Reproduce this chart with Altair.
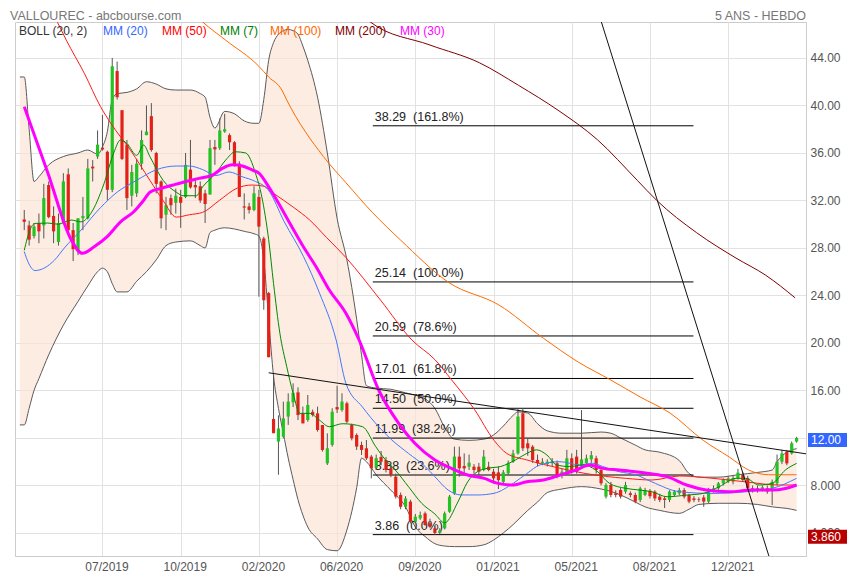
import altair as alt
import pandas as pd

# ---------------- weekly candles (index 0..158) ----------------
OPEN = [30.4, 29.9, 29.0, 30.1, 29.9, 33.3, 30.7, 28.5, 30.1, 34.2,
        29.5, 27.7, 30.5, 30.5, 34.85, 35.7, 36.45, 36.1, 32.9, 42.9,
        39.6, 36.7, 32.4, 32.6, 35.1, 37.5, 39.1, 36.0, 33.6, 30.8,
        32.2, 31.8, 32.3, 32.3, 34.6, 33.3, 33.2, 32.6, 32.5, 36.5,
        36.4, 37.8, 37.5, 36.9, 35.1, 31.5, 31.5, 31.2, 32.3, 28.8,
        24.2, 13.6, 11.7, 12.1, 13.8, 15.0, 15.84, 14.07, 13.51, 14.2,
        14.07, 13.09, 9.86, 11.41, 14.6, 14.35, 14.92, 13.09, 12.25, 11.41,
        11.13, 10.43, 9.5, 10.4, 10.14, 9.44, 8.74, 7.2, 6.2, 6.64,
        4.95, 5.23, 5.65, 4.81, 4.39, 4.0, 4.39, 5.79, 7.34, 10.43,
        9.64, 9.58, 9.58, 9.58, 9.3, 9.58, 9.16, 9.1, 8.3, 9.02,
        10.0, 10.7, 14.08, 11.55, 11.27, 10.15, 9.87, 9.8, 9.87, 9.87,
        8.88, 9.02, 10.29, 10.43, 9.6, 9.87, 10.2, 10.29, 9.3, 7.06,
        8.04, 7.34, 7.62, 7.48, 7.34, 7.2, 6.78, 7.2, 7.55, 7.48,
        7.06, 6.91, 6.78, 7.2, 7.34, 7.62, 7.2, 6.91, 6.83, 6.99,
        6.64, 7.48, 7.76, 8.18, 8.32, 8.32, 8.6, 8.88, 8.6, 7.76,
        7.76, 7.67, 7.76, 7.76, 8.18, 10.0, 10.84, 10.7, 11.7]
HIGH = [31.2, 30.3, 30.1, 30.9, 33.4, 33.6, 31.5, 30.9, 34.3, 34.7,
        30.1, 30.5, 32.3, 35.5, 35.4, 37.9, 39.2, 36.2, 44.0, 43.7,
        39.6, 37.1, 35.0, 35.5, 37.9, 40.0, 40.2, 36.1, 33.7, 32.3,
        32.5, 33.0, 32.9, 36.0, 37.1, 33.9, 33.6, 32.9, 37.1, 37.1,
        38.9, 39.3, 37.65, 37.0, 35.3, 32.6, 31.8, 33.2, 32.9, 28.95,
        24.3, 17.3, 13.9, 15.06, 15.76, 16.6, 16.26, 14.64, 15.62, 14.4,
        14.64, 13.09, 12.39, 14.5, 16.4, 15.76, 15.06, 13.2, 12.39, 11.69,
        11.83, 10.57, 10.6, 10.9, 10.4, 9.7, 9.0, 7.4, 7.1, 6.8,
        5.6, 5.8, 5.8, 5.2, 4.6, 4.4, 5.8, 7.2, 11.27, 11.27,
        10.7, 10.6, 9.8, 9.9, 10.99, 10.0, 9.4, 9.6, 9.3, 10.1,
        11.0, 14.5, 14.5, 12.0, 11.4, 10.6, 10.3, 10.2, 10.3, 10.1,
        9.4, 11.0, 10.7, 11.0, 14.35, 10.6, 10.9, 10.5, 9.4, 8.2,
        8.3, 7.6, 7.8, 8.3, 7.5, 7.4, 7.9, 7.8, 7.7, 7.6,
        7.3, 7.1, 7.6, 7.6, 7.8, 7.8, 7.3, 7.1, 7.0, 7.2,
        7.8, 8.0, 8.3, 8.6, 8.8, 8.8, 9.4, 9.1, 8.8, 8.0,
        8.0, 8.0, 8.0, 8.5, 10.6, 11.0, 11.0, 11.7, 12.1]
LOW = [29.5, 28.2, 28.8, 28.4, 28.8, 30.5, 28.4, 28.2, 30.0, 29.4,
       26.9, 27.4, 29.5, 30.4, 33.6, 35.5, 36.2, 32.0, 32.7, 40.5,
       35.4, 31.2, 31.5, 32.3, 34.6, 37.5, 36.1, 32.6, 29.65, 29.5,
       30.8, 30.9, 29.7, 32.2, 33.0, 32.2, 31.8, 30.1, 32.5, 35.0,
       36.25, 37.7, 36.25, 34.85, 32.3, 30.4, 30.9, 31.1, 23.9, 22.8,
       18.8, 12.4, 8.9, 11.97, 13.1, 14.6, 13.51, 13.23, 13.37, 13.8,
       12.53, 10.85, 9.72, 11.27, 14.1, 14.21, 13.23, 11.8, 10.99, 10.57,
       10.15, 8.6, 9.3, 9.7, 9.1, 8.7, 6.9, 6.0, 6.0, 4.8,
       4.8, 5.1, 4.6, 4.4, 3.86, 3.9, 4.3, 5.7, 7.2, 8.74,
       9.0, 9.3, 9.0, 8.8, 9.2, 9.2, 8.18, 7.7, 8.2, 8.9,
       9.9, 10.6, 10.9, 10.5, 9.9, 9.6, 9.7, 9.6, 9.6, 8.6,
       8.6, 8.9, 9.0, 9.0, 9.4, 9.6, 9.9, 9.0, 8.0, 6.9,
       7.0, 7.0, 6.9, 7.3, 7.0, 6.5, 6.6, 7.1, 6.9, 6.7,
       6.6, 6.1, 6.6, 7.1, 7.2, 6.9, 6.5, 6.6, 6.6, 6.2,
       6.5, 7.4, 7.6, 8.0, 8.2, 8.1, 8.5, 8.3, 7.5, 7.4,
       7.4, 7.5, 7.3, 6.35, 8.0, 9.8, 9.7, 10.6, 11.6]
CLOSE = [30.2, 28.7, 29.8, 29.4, 32.2, 30.6, 29.4, 30.1, 33.6, 29.5,
         27.9, 30.5, 30.7, 34.7, 34.7, 36.7, 36.3, 32.9, 43.3, 40.7,
         35.5, 32.2, 34.4, 35.1, 37.1, 37.8, 36.25, 33.4, 30.5, 31.6,
         31.6, 32.4, 31.8, 35.0, 33.1, 33.1, 32.0, 31.7, 36.4, 36.3,
         37.9, 38.0, 36.9, 35.0, 32.3, 31.4, 31.2, 32.6, 29.8, 23.6,
         18.8, 12.4, 12.8, 13.65, 15.06, 15.8, 13.93, 13.23, 14.78, 13.93,
         12.67, 10.99, 11.13, 14.21, 14.4, 15.06, 13.37, 11.97, 11.27, 10.99,
         10.29, 9.44, 10.3, 10.0, 9.3, 8.88, 7.06, 6.2, 6.9, 4.95,
         5.37, 5.51, 4.67, 4.53, 4.0, 4.2, 5.65, 7.06, 10.43, 9.44,
         9.44, 9.92, 9.3, 9.16, 10.43, 9.3, 8.6, 8.45, 9.1, 9.87,
         10.7, 13.8, 11.13, 11.13, 10.15, 9.87, 10.0, 10.0, 10.06, 8.74,
         9.16, 10.29, 9.16, 9.16, 10.2, 10.29, 10.55, 9.3, 8.18, 8.04,
         7.2, 7.2, 7.06, 8.04, 7.2, 6.64, 7.76, 7.62, 7.1, 6.91,
         6.78, 6.78, 7.48, 7.48, 7.62, 7.06, 6.64, 6.78, 6.78, 6.64,
         7.62, 7.76, 8.18, 8.46, 8.6, 8.6, 9.08, 8.46, 7.76, 7.62,
         7.62, 7.84, 7.48, 8.3, 10.0, 10.7, 9.86, 11.55, 12.0]

# ---------------- axis ticks ----------------
X_TICK_IDX = [16, 32, 48, 64, 80, 96, 112, 128, 144]
X_TICK_LABELS = ["07/2019", "10/2019", "02/2020", "06/2020", "09/2020",
                 "01/2021", "05/2021", "08/2021", "12/2021"]
Y_TICKS = [4, 8, 12, 16, 20, 24, 28, 32, 36, 40, 44]

# ---------------- Bollinger (20, 2) ----------------
BAND_IDX = [-0.9, 0, 1, 2, 3, 5, 8, 11, 13, 15, 16, 17, 18, 19, 21, 23, 25, 27, 29, 31,
            34, 36, 37, 38, 39, 41, 43, 45, 47, 48, 49, 50, 51, 52, 53, 54, 55, 56, 57, 58,
            60, 62, 64, 66, 68, 69, 70, 72, 75, 78, 80, 82, 84, 86, 88, 91, 94, 96, 98, 100,
            101, 103, 105, 107, 110, 114, 118, 120, 122, 125, 127, 130, 134, 136, 138, 142, 146, 150, 153, 154,
            156, 158]
BAND_UP = [42.4, 42.4, 38.0, 33.6, 34.0, 35.0, 35.7, 36.0, 36.25, 35.9, 36.5, 37.8, 40.5, 41.0, 41.1, 41.4, 42.0, 41.8, 41.4, 41.3,
           41.3, 41.0, 40.7, 39.0, 38.1, 39.5, 39.3, 38.7, 38.5, 38.5, 40.5, 43.8, 45.3, 46.0, 46.3, 46.4, 46.3, 46.0, 45.0, 43.8,
           40.7, 36.0, 30.5, 27.0, 22.0, 19.0, 16.4, 16.2, 16.1, 15.8, 15.6, 15.3, 14.5, 12.9, 11.9, 11.8, 11.9, 12.25, 13.0, 13.9,
           14.2, 14.1, 13.2, 12.6, 12.4, 12.4, 12.5, 12.4, 12.0, 11.4, 11.0, 10.8, 10.1, 9.0, 8.7, 8.7, 8.9, 9.1, 9.3, 10.0,
           10.8, 11.1]
BAND_LO = [13.1, 13.1, 14.5, 16.0, 17.0, 19.0, 21.5, 23.5, 24.8, 26.0, 26.3, 26.0, 25.0, 24.3, 24.3, 25.2, 26.0, 27.0, 28.2, 28.5,
           28.6, 28.2, 28.0, 29.3, 29.5, 29.7, 29.6, 29.4, 29.2, 29.0, 27.0, 22.0, 17.2, 14.5, 12.4, 10.3, 8.5, 6.8, 5.5, 4.5,
           3.5, 2.6, 2.5, 4.25, 7.8, 10.3, 10.0, 8.9, 7.6, 6.2, 4.5, 3.7, 3.1, 2.9, 2.85, 2.85, 3.0, 3.4, 4.0, 4.7,
           5.1, 5.9, 6.6, 7.4, 7.7, 7.9, 7.7, 7.5, 7.2, 6.6, 6.2, 5.9, 5.65, 6.0, 6.4, 6.5, 6.5, 6.4, 6.2, 6.15,
           6.07, 5.9]

# ---------------- moving averages (read at sample weeks) ----------------
MM20_IDX = [0, 0.8, 2.2, 6.2, 8.2, 11.6, 15.6, 19.0, 23.0, 27.1, 31.1, 33.8, 36.5, 39.2, 41.9, 44.6, 47.3, 49.9,
            53.2, 57.1, 60.4, 63.8, 65.8, 69.2, 72.5, 75.2, 78.6, 82.0, 84.0, 86.7, 89.4, 92.7, 96.1, 100.1,
            102.8, 105.5, 109.6, 113.6, 116.3, 118.3, 121.7, 125.1, 128.4, 134.1, 140.9, 147.6, 153.0, 158.0]
MM20_VAL = [27.7, 26.8, 26.1, 26.98, 28.0, 29.5, 31.4, 32.7, 33.7, 34.6, 34.9, 34.9, 34.6, 34.1, 34.4, 34.0, 33.6, 32.9,
            30.2, 27.3, 24.2, 20.25, 16.6, 14.6, 12.95, 11.83, 10.7, 9.6, 8.74, 7.62, 7.2, 7.2, 7.34, 8.2,
            9.0, 9.73, 10.0, 9.73, 9.87, 9.6, 9.16, 8.9, 8.3, 7.47, 7.33, 7.47, 7.75, 8.6]

MM50_IDX = [6.0, 6.8, 8.6, 12.3, 15.6, 17.7, 21.7, 25.7, 28.4, 31.1, 33.8, 36.5, 39.9, 43.6, 46.6, 49.0, 51.0,
            55.0, 58.4, 61.8, 65.8, 72.9, 79.3, 84.0, 87.4, 92.1, 96.1, 98.7, 102.8, 109.6, 114.9, 123.0,
            128.4, 134.1, 140.9, 147.6, 154.3, 158.0]
MM50_VAL = [47.6, 47.0, 45.5, 42.7, 39.9, 38.5, 36.25, 33.7, 32.0, 30.6, 30.8, 31.0, 32.0, 33.05, 33.3, 33.2, 32.6,
            31.45, 30.35, 28.9, 27.2, 23.6, 20.25, 18.6, 16.9, 14.4, 11.8, 10.7, 10.15, 9.45, 9.0, 8.6,
            8.46, 8.8, 8.6, 8.3, 8.04, 8.04]

MM7_IDX = [0, 1.15, 2.2, 4.85, 6.9, 9.6, 11.6, 13.6, 16.3, 18.3, 19.7, 21.0, 23.0, 24.4, 25.7, 28.4, 31.1, 32.5,
           35.2, 36.5, 39.2, 41.2, 43.2, 45.3, 47.3, 48.6, 50.0, 51.0, 52.3, 53.7, 55.0, 56.4, 58.4, 60.4,
           62.4, 65.1, 69.2, 71.9, 73.9, 75.9, 78.6, 81.3, 84.0, 86.0, 88.7, 90.7, 92.7, 94.7, 97.5, 100.5,
           102.8, 104.8, 106.9, 108.9, 111.6, 114.3, 116.9, 119.7, 123.0, 125.7, 128.4, 131.5, 135.5, 138.9,
           142.2, 145.6, 147.6, 150.3, 153.0, 155.7, 158.0]
MM7_VAL = [27.8, 29.5, 30.07, 30.1, 30.0, 30.35, 30.2, 30.9, 33.4, 36.0, 37.1, 36.8, 35.8, 36.67, 35.7, 33.7, 32.7, 32.4,
           32.4, 33.15, 34.3, 35.4, 36.1, 36.0, 34.3, 32.3, 28.7, 25.0, 20.8, 18.0, 15.76, 14.07, 14.07, 13.5,
           12.95, 13.2, 12.95, 11.27, 10.15, 9.3, 7.9, 6.5, 5.6, 4.85, 6.6, 8.3, 9.16, 9.44, 9.6, 10.15,
           10.7, 11.0, 10.57, 9.73, 9.59, 9.73, 9.3, 8.18, 7.76, 7.62, 7.47, 7.05, 7.19, 7.33,
           7.9, 8.6, 8.6, 8.04, 8.18, 9.3, 9.86]

MM100_IDX = [35.0, 36.5, 41.2, 48.0, 50.0, 52.7, 53.7, 61.2, 65.8, 71.2, 76.9, 87.0, 97.1, 106.2, 113.3,
             119.9, 126.0, 132.1, 138.9, 144.2, 148.2, 152.3, 158.0]
MM100_VAL = [47.6, 47.03, 45.5, 43.3, 42.4, 41.3, 40.46, 35.7, 33.5, 31.0, 28.7, 25.05, 23.2, 20.4, 18.4,
             16.9, 15.45, 14.1, 11.8, 10.4, 9.3, 8.9, 8.9]

MM200_IDX = [69.5, 70.8, 83.0, 93.1, 101.1, 109.2, 117.3, 125.4, 129.4, 137.5, 145.6, 151.7, 157.7]
MM200_VAL = [47.5, 47.03, 45.09, 43.6, 41.7, 39.6, 37.1, 33.7, 32.0, 29.3, 27.15, 25.7, 23.8]

MM30_IDX = [0, 4.85, 9.6, 11.9, 14.3, 16.97, 19.7, 22.4, 24.4, 25.7, 27.8, 30.4, 33.1, 35.8, 38.5, 40.5, 42.6,
            44.6, 46.6, 48.0, 50.0, 51.7, 54.3, 57.1, 59.7, 62.4, 65.8, 68.5, 72.5, 76.6, 79.9, 84.0, 87.4,
            90.7, 94.1, 96.7, 100.1, 102.8, 106.2, 109.6, 112.9, 115.6, 118.3, 121.7, 125.0, 127.8, 131.5,
            135.5, 139.5, 144.2, 148.9, 153.0, 155.7, 158.0]
MM30_VAL = [39.9, 34.3, 28.7, 27.55, 28.1, 28.95, 30.2, 31.05, 32.0, 32.7, 33.0, 33.3, 33.6, 33.86, 34.14, 34.7, 35.0,
            34.9, 34.57, 34.3, 33.15, 32.0, 30.1, 28.1, 26.42, 24.46, 22.5, 20.25, 16.04, 13.23, 11.55, 10.15, 9.44,
            8.88, 8.6, 8.2, 8.04, 8.32, 8.46, 8.88, 9.3, 9.73, 9.44, 9.3, 9.16, 9.0, 8.74,
            8.04, 7.62, 7.47, 7.62, 7.62, 7.75, 8.04]

# ---------------- Fibonacci retracement & trend lines ----------------
FIB_VAL = [38.29, 25.14, 20.59, 17.01, 14.50, 11.99, 8.88, 3.86]
FIB_PCT = ["161.8%", "100.0%", "78.6%", "61.8%", "50.0%", "38.2%", "23.6%", "0.0%"]
FIB_FROM, FIB_TO = 71.3, 136.9

TREND_A_IDX = [50.0, 160.0]
TREND_A_VAL = [17.49, 10.66]
TREND_B_IDX = [115.8, 153.9]
TREND_B_VAL = [50.0, 0.0]

LAST_PRICE = 12.00
MIN_PRICE = 3.86

# ---------------- build ----------------
W, H = 791, 534
FONT = "Liberation Sans"
xs = alt.Scale(domain=[-0.87, 158.9], nice=False, zero=False)
ys = alt.Scale(domain=[2.06, 47.03], nice=False, zero=False)

labels_js = "[" + ",".join("'%s'" % s for s in X_TICK_LABELS) + "]"
idx_js = "[" + ",".join(str(i) for i in X_TICK_IDX) + "]"
xaxis = alt.Axis(values=X_TICK_IDX, labelExpr=f"{labels_js}[indexof({idx_js}, datum.value)]",
                 grid=True, gridColor="#e2e2e2", ticks=False, domainColor="#cccccc",
                 labelColor="#555555", labelFont=FONT, labelFontSize=12, labelPadding=5,
                 labelOffset=4, title=None)
yaxis = alt.Axis(orient="right", values=Y_TICKS,
                 labelExpr="datum.value >= 10 ? format(datum.value, '.2f') : format(datum.value, '.3f')",
                 grid=True, gridColor="#e2e2e2", ticks=False, domainColor="#cccccc",
                 labelColor="#555555", labelFont=FONT, labelFontSize=12, labelPadding=4,
                 labelAlign="left", labelBaseline="middle", title=None)


def X(f):
    return alt.X(f, type="quantitative", scale=xs, axis=xaxis)


def Y(f):
    return alt.Y(f, type="quantitative", scale=ys, axis=yaxis)


candles = pd.DataFrame({"idx": list(range(len(OPEN))), "open": OPEN, "high": HIGH,
                        "low": LOW, "close": CLOSE})
candles["up"] = candles["close"] >= candles["open"]

band = pd.DataFrame({"idx": BAND_IDX, "up": BAND_UP, "lo": BAND_LO})

band_fill = alt.Chart(band).mark_area(color="#FBE2D2", opacity=0.65, interpolate="monotone", clip=True).encode(
    x=X("idx"), y=Y("up"), y2="lo")
band_up = alt.Chart(band).mark_line(color="#5a5a5a", strokeWidth=1, interpolate="monotone", clip=True).encode(
    x=X("idx"), y=Y("up"))
band_lo = alt.Chart(band).mark_line(color="#5a5a5a", strokeWidth=1, interpolate="monotone", clip=True).encode(
    x=X("idx"), y=Y("lo"))

fib = pd.DataFrame({"v": FIB_VAL, "pct": FIB_PCT})
fib["a"] = FIB_FROM
fib["b"] = FIB_TO
fib["label"] = [f"{v:.2f}\u00a0\u00a0({p})" for v, p in zip(FIB_VAL, FIB_PCT)]
fib_lines = alt.Chart(fib).mark_rule(color="#000000", strokeWidth=1).encode(
    x=X("a"), x2="b", y=Y("v"))
fib_text = alt.Chart(fib).mark_text(align="left", baseline="bottom", dx=2, dy=-2,
                                    font=FONT, fontSize=12.5, color="#222222").encode(
    x=X("a"), y=Y("v"), text="label")


def ma_line(idx, val, color, width):
    df = pd.DataFrame({"idx": idx, "v": val})
    return alt.Chart(df).mark_line(color=color, strokeWidth=width, interpolate="monotone", clip=True).encode(
        x=X("idx"), y=Y("v"))


wicks = alt.Chart(candles).mark_rule(color="#555555", strokeWidth=1).encode(
    x=X("idx"), y=Y("low"), y2="high")
bodies = alt.Chart(candles).mark_bar(size=3.2).encode(
    x=X("idx"), y=Y("open"), y2="close",
    color=alt.condition("datum.up", alt.value("#22c322"), alt.value("#e32119")))


def trend(idx, val):
    df = pd.DataFrame({"idx": idx, "v": val})
    return alt.Chart(df).mark_line(color="#111111", strokeWidth=1, clip=True).encode(
        x=X("idx"), y=Y("v"))


def txt(s, x, y, color, size=12, align="left"):
    return alt.Chart(pd.DataFrame({"t": [s]})).mark_text(
        align=align, baseline="alphabetic", font=FONT, fontSize=size, color=color).encode(
        x=alt.value(x), y=alt.value(y), text="t:N")


legend = [
    txt("BOLL (20, 2)", 4, 13, "#333333"),
    txt("MM (20)", 88, 13, "#3366ff"),
    txt("MM (50)", 147, 13, "#ff0000"),
    txt("MM (7)", 205, 13, "#008000"),
    txt("MM (100)", 255, 13, "#ff6600"),
    txt("MM (200)", 320, 13, "#800000"),
    txt("MM (30)", 385, 13, "#ff00ff"),
    txt("VALLOUREC - abcbourse.com", -5, -2, "#777777", 12.5),
    txt("5 ANS - HEBDO", W, -2, "#777777", 12.5, "right"),
]


def price_box(v, s, fill):
    d = pd.DataFrame({"v": [v], "t": [s]})
    box = alt.Chart(d).mark_rect(color=fill, yOffset=-5, y2Offset=9).encode(
        x=alt.value(W + 2), x2=alt.value(W + 50), y=Y("v"), y2="v")
    t = alt.Chart(d).mark_text(align="left", baseline="middle", font=FONT, fontSize=12, dy=2,
                               color="#ffffff").encode(
        x=alt.value(W + 5), y=Y("v"), text="t:N")
    return box + t


chart = alt.layer(
    band_fill, band_up, band_lo,
    fib_lines, fib_text,
    wicks, bodies,
    ma_line(MM200_IDX, MM200_VAL, "#800000", 1),
    ma_line(MM100_IDX, MM100_VAL, "#ff6a00", 1),
    ma_line(MM50_IDX, MM50_VAL, "#ff1a1a", 1),
    ma_line(MM20_IDX, MM20_VAL, "#4477ff", 1),
    ma_line(MM7_IDX, MM7_VAL, "#008a00", 1),
    ma_line(MM30_IDX, MM30_VAL, "#ff00ff", 3),
    trend(TREND_A_IDX, TREND_A_VAL),
    trend(TREND_B_IDX, TREND_B_VAL),
    price_box(LAST_PRICE, "12.00", "#3366ff"),
    price_box(MIN_PRICE, "3.860", "#b80000"),
    *legend,
).properties(
    width=W, height=H,
    autosize=alt.AutoSizeParams(type="none"),
    padding={"left": 7, "top": 14, "right": 41, "bottom": 16},
).configure_view(stroke="#cccccc")

chart.save("out.html", embed_options={"renderer": "svg", "actions": False})
